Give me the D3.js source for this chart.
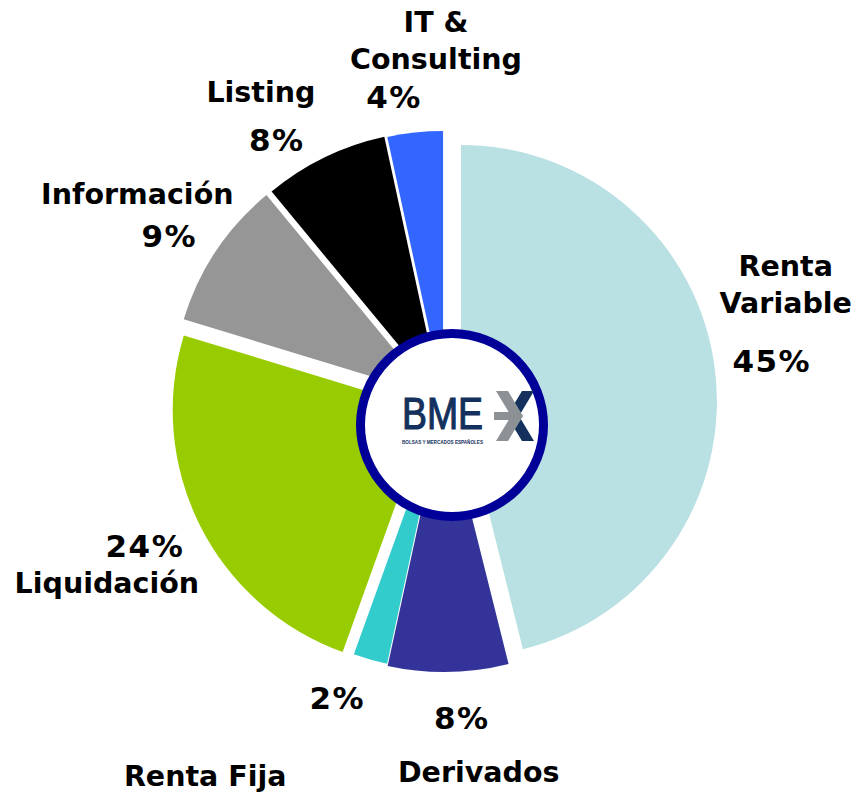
<!DOCTYPE html>
<meta charset="utf-8">
<style>
    body { margin: 0; background: #fff; }
    .lbl {
        font-family: "DejaVu Sans", Verdana, sans-serif;
        font-weight: bold;
        fill: #000;
        text-anchor: middle;
    }
</style>
<body></body>
<script src="https://cdn.jsdelivr.net/npm/d3@7/dist/d3.min.js"></script>
<script>
    // slice data (shares as drawn, printed labels as shown)
    var categories = ["Renta Variable", "Derivados", "Renta Fija", "Liquidación", "Información", "Listing", "IT & Consulting"];
    var shares = [46.1, 7.3, 2.1, 24.2, 9.3, 7.6, 3.4];
    var pctLabels = ["45%", "8%", "2%", "24%", "9%", "8%", "4%"];
    var nameLines = [["Renta", "Variable"], ["Derivados"], ["Renta Fija"], ["Liquidación"], ["Información"], ["Listing"], ["IT &", "Consulting"]];

    // styling / layout
    var colors = ["#B9E0E3", "#333399", "#33CCCC", "#99CC00", "#969696", "#000000", "#3366FF"];
    var explode = [17, 3, 5, 16, 15, 8, 9];
    var radii = [256, 266, 262, 257, 259, 265, 263];
    var nameOffsets = [[44, -101], [30, 69], [-156, 84], [-69, 45], [-57, -43], [-52, -41], [24, -83]];
    var pctOffsets = [[30, -6], [13, 15], [-24, 6], [-31, 8], [-25, -1], [-36, 7], [-18, -8]];

    var width = 857, height = 794;
    var cx = 444, cy = 403;        // pie centre
    var labelR = 300;
    var lineH = 37;

    var svg = d3.select("body").append("svg")
        .attr("width", width)
        .attr("height", height);

    svg.append("rect").attr("width", width).attr("height", height).attr("fill", "#fff");

    var pie = d3.pie().sort(null).value(function(d) { return d; });
    var arcs = pie(shares);

    var g = svg.append("g").attr("transform", "translate(" + cx + "," + cy + ")");

    function midDir(d) {
        var a = (d.startAngle + d.endAngle) / 2;
        return [Math.sin(a), -Math.cos(a)];
    }

    // slices, each pulled out along its middle angle
    g.selectAll(".slice")
        .data(arcs)
        .enter().append("path")
        .attr("class", "slice")
        .attr("fill", function(d, i) { return colors[i]; })
        .attr("transform", function(d, i) {
            var m = midDir(d);
            return "translate(" + (m[0] * explode[i]) + "," + (m[1] * explode[i]) + ")";
        })
        .attr("d", function(d, i) {
            return d3.arc().innerRadius(0).outerRadius(radii[i])(d);
        });

    // labels, placed from the slice centroid at labelR
    var labelArc = d3.arc().innerRadius(labelR).outerRadius(labelR);

    arcs.forEach(function(d, i) {
        var c = labelArc.centroid(d);
        var nx = c[0] + nameOffsets[i][0], ny = c[1] + nameOffsets[i][1];
        nameLines[i].forEach(function(t, k) {
            g.append("text")
                .attr("class", "lbl")
                .attr("x", nx)
                .attr("y", ny + k * lineH)
                .attr("dy", "0.36em")
                .style("font-size", "28.5px")
                .text(t);
        });
        g.append("text")
            .attr("class", "lbl")
            .attr("x", c[0] + pctOffsets[i][0])
            .attr("y", c[1] + pctOffsets[i][1])
            .attr("dy", "0.36em")
            .style("font-size", "31px")
            .style("letter-spacing", "1.5px")
            .text(pctLabels[i]);
    });

    // centre badge with logo
    var logo = svg.append("g").attr("transform", "translate(452,425)");

    logo.append("circle")
        .attr("r", 91.5)
        .attr("fill", "#fff")
        .attr("stroke", "#000099")
        .attr("stroke-width", 9);

    logo.append("text")
        .attr("x", -50)
        .attr("y", 4)
        .attr("textLength", 81)
        .attr("lengthAdjust", "spacingAndGlyphs")
        .style("font-family", "'Liberation Sans', Arial, sans-serif")
        .style("font-size", "45px")
        .attr("fill", "#13315c")
        .attr("stroke", "#13315c")
        .attr("stroke-width", 1.2)
        .text("BME");

    logo.append("text")
        .attr("x", -50)
        .attr("y", 18.5)
        .attr("textLength", 81)
        .attr("lengthAdjust", "spacingAndGlyphs")
        .style("font-family", "'Liberation Sans', Arial, sans-serif")
        .style("font-size", "5px")
        .style("font-weight", "bold")
        .attr("fill", "#13315c")
        .text("BOLSAS Y MERCADOS ESPAÑOLES");

    // the X mark: navy chevron under a grey arrow
    logo.append("path")
        .attr("fill", "#13315c")
        .attr("d", "M82,-34L70,-34L55,-9L70,16L82,16L67,-9Z");
    logo.append("path")
        .attr("fill", "#8c9196")
        .attr("d", "M44,-34L56,-34L71,-9L56,16L44,16L59,-9Z");
    logo.append("rect")
        .attr("fill", "#8c9196")
        .attr("x", 42).attr("y", -13)
        .attr("width", 22).attr("height", 8);
</script>
